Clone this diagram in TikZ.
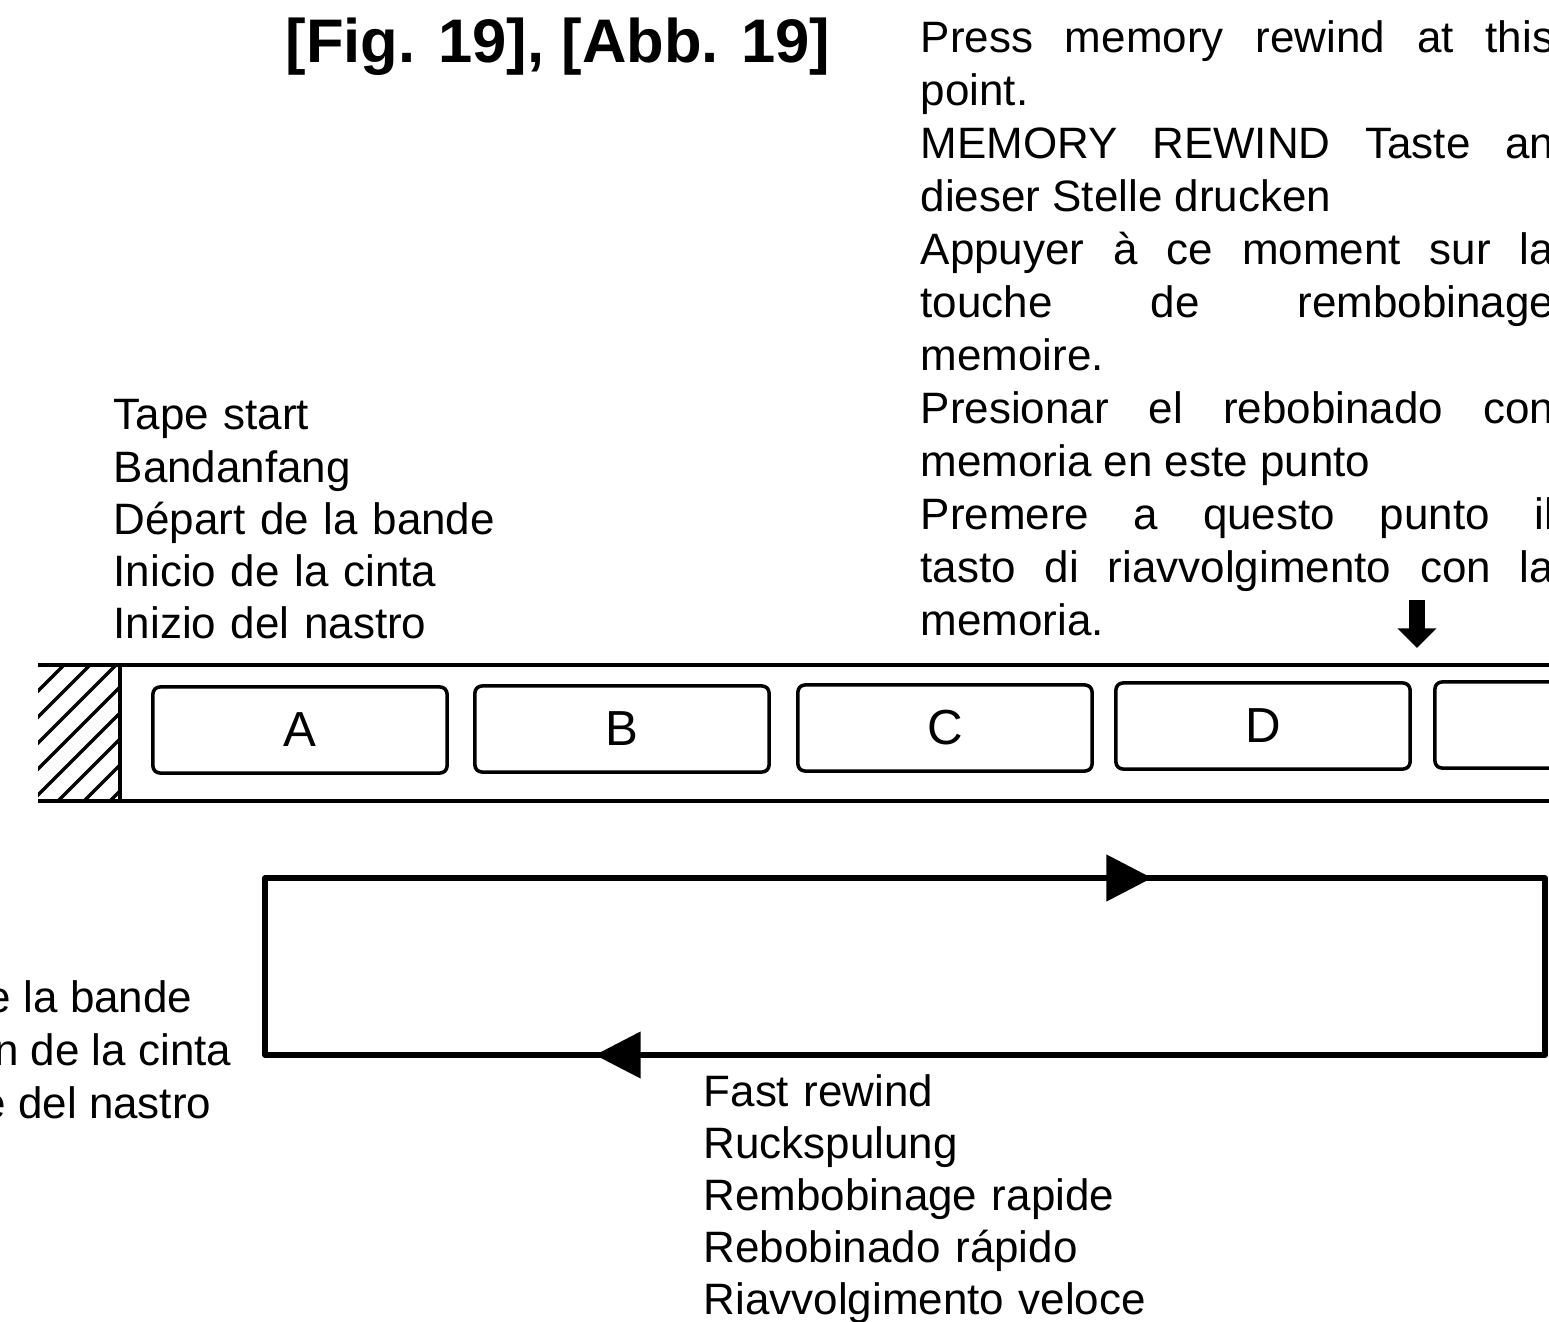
\documentclass[tikz,border=0pt]{standalone}
\usepackage{fontspec}
\setmainfont{Liberation Sans}
\usetikzlibrary{arrows.meta,positioning}

\tikzset{
  lbl/.style={anchor=base west, inner sep=0pt, text width=5cm, align=left, font=\fontsize{12.5}{14.85}\selectfont},
  tapebox/.style={draw, line width=1pt, rounded corners=2pt, minimum width=2.94cm, minimum height=0.86cm, inner sep=0pt, font=\fontsize{14}{16}\selectfont},
  tapeline/.style={line width=1pt},
  hatchline/.style={line width=1pt},
  flow/.style={line width=1.6pt, line join=round},
  flowtip/.style={-{Triangle[length=13pt,width=13pt]}},
  marker/.style={line width=4.6pt, -{Triangle[length=5.6pt,width=10.8pt]}},
}

\begin{document}
\begin{tikzpicture}[x=0.01cm, y=-0.01cm]
\useasboundingbox (0,0) rectangle (1549,1322);
\clip (0,0) rectangle (1549,1322);
% ---- title ----
\node[anchor=base west, inner sep=0pt, font=\fontsize{17.5}{20}\selectfont\bfseries] (title) at (285,63) {[Fig. 19], [Abb. 19]};
% ---- labels ----
\node[lbl] (startlbl) at (113,430) {Tape start\\Bandanfang\\Départ de la bande\\Inicio de la cinta\\Inizio del nastro};
\node[lbl, text width=6.33cm, align=justify, font=\fontsize{12.5}{15.05}\selectfont] (memlbl) at (920,53) {%
  Press memory rewind at this\linebreak point.\\
  MEMORY REWIND Taste an\linebreak dieser Stelle drucken\\
  Appuyer à ce moment sur la\linebreak touche de rembobinage\linebreak memoire.\\
  Presionar el rebobinado con\linebreak memoria en este punto\\
  Premere a questo punto il\linebreak tasto di riavvolgimento con la\linebreak memoria.};
\node[lbl, text width={}, anchor=base east] (endlblA) at (193,1012) {e la bande};
\node[lbl, text width={}, anchor=base east] (endlblB) at (232,1065) {n de la cinta};
\node[lbl, text width={}, anchor=base east] (endlblC) at (212,1118) {e del nastro};
\node[lbl] (rewlbl) at (703,1106) {Fast rewind\\Ruckspulung\\Rembobinage rapide\\Rebobinado rápido\\Riavvolgimento veloce};
% ---- tape ----
\draw[tapeline] (38,665) -- (1560,665);
\draw[tapeline] (38,801) -- (1560,801);
\draw[tapeline] (120,665) -- (120,801);
\begin{scope}
  \clip (38,665) rectangle (120,801);
  \foreach \i in {0,...,8}{\draw[hatchline] (38-136+\i*26,801) -- ++(136,-136);}
\end{scope}
\node[tapebox] (boxA) at (300,730) {A};
\node[tapebox] (boxB) at (622,729) {B};
\node[tapebox] (boxC) at (945,728) {C};
\node[tapebox] (boxD) at (1263,726) {D};
\node[tapebox] (boxE) at (1582,725) {};
% memory rewind point
\coordinate (markTop) at (1417,600);
\coordinate (markTip) at (1417,648);
\draw[marker] (markTop) -- (markTip);
% ---- play / rewind loop ----
\coordinate (loopTL) at (265,878);
\coordinate (loopTR) at (1545,878);
\coordinate (loopBR) at (1545,1055);
\coordinate (loopBL) at (265,1055);
\coordinate (fwdTip) at (1152,878);
\coordinate (rewTip) at (595,1055);
\draw[flow] (loopTL) -- (loopTR) -- (loopBR) -- (loopBL) -- cycle;
\draw[flow, flowtip] (loopTL) -- (fwdTip);
\draw[flow, flowtip] (loopBR) -- (rewTip);
\end{tikzpicture}
\end{document}
